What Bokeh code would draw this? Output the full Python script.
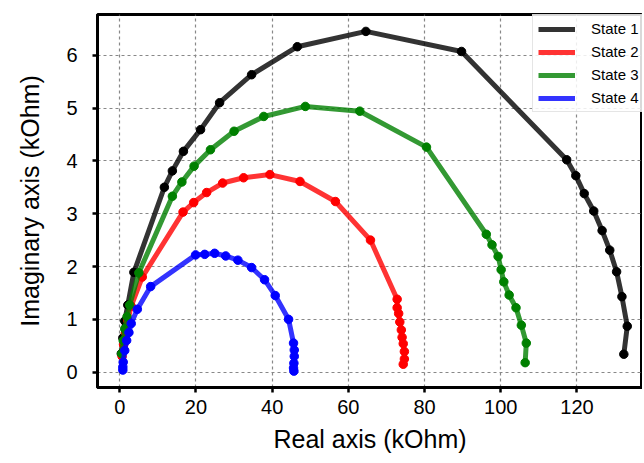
from bokeh.plotting import figure
from bokeh.models import Legend, LegendItem, FixedTicker, Range1d
from bokeh.embed import file_html
from bokeh.resources import INLINE

# ---- data ----
s1_re = [0.4, 0.8, 1.3, 2.1, 3.7, 11.7, 13.8, 16.7, 21.2, 26.2, 34.6, 46.6, 64.6, 89.7,
         117.3, 119.7, 121.9, 124.4, 126.6, 128.6, 130.4, 131.8, 133.2, 132.3]
s1_im = [0.35, 0.65, 0.97, 1.27, 1.89, 3.50, 3.81, 4.18, 4.59, 5.10, 5.63, 6.16, 6.45, 6.07,
         4.02, 3.72, 3.38, 3.05, 2.68, 2.31, 1.90, 1.43, 0.87, 0.34]

s2_re = [0.6, 1.0, 1.5, 2.1, 3.0, 5.9, 16.6, 19.4, 22.8, 27.0, 32.5, 39.4, 47.3, 56.6, 65.8,
         72.8, 72.8, 73.2, 73.5, 73.9, 74.1, 74.4, 74.7, 74.7, 74.4]
s2_im = [0.30, 0.52, 0.75, 0.98, 1.25, 1.80, 3.03, 3.21, 3.40, 3.58, 3.68, 3.74, 3.61, 3.23, 2.50,
         1.38, 1.22, 1.11, 0.95, 0.80, 0.66, 0.54, 0.39, 0.25, 0.15]

s3_re = [0.5, 0.9, 1.3, 1.9, 2.6, 5.0, 13.8, 16.3, 19.5, 23.8, 30.0, 37.8, 48.7, 63.0, 80.5,
         96.2, 97.7, 99.3, 100.1, 100.8, 102.2, 104.0, 105.4, 106.7, 106.4]
s3_im = [0.35, 0.60, 0.82, 1.05, 1.27, 1.88, 3.33, 3.60, 3.90, 4.21, 4.56, 4.84, 5.03, 4.94, 4.26,
         2.61, 2.41, 2.19, 1.94, 1.71, 1.46, 1.22, 0.89, 0.55, 0.18]

s4_re = [0.8, 0.8, 0.9, 1.3, 1.8, 2.4, 3.0, 4.6, 8.1, 19.9, 22.3, 24.9, 27.8, 31.0, 34.6, 38.0,
         40.8, 44.3, 45.6, 45.8, 45.8, 45.7, 45.6, 45.7]
s4_im = [0.04, 0.10, 0.19, 0.41, 0.60, 0.75, 0.92, 1.19, 1.62, 2.22, 2.23, 2.25, 2.20, 2.12, 1.98, 1.75,
         1.45, 1.00, 0.55, 0.42, 0.30, 0.17, 0.08, 0.02]

series_names = ["State 1", "State 2", "State 3", "State 4"]
line_colors = ["black", "red", "green", "blue"]
marker_colors = ["black", "red", "green", "blue"]
x_ticks = [0, 20, 40, 60, 80, 100, 120]
y_ticks = [0, 1, 2, 3, 4, 5, 6]

FONT = "Liberation Sans"

p = figure(width=642, height=455, output_backend="svg", toolbar_location=None,
           x_range=Range1d(-5.85, 137.2), y_range=Range1d(-0.29, 6.77),
           min_border_left=97, min_border_right=0, min_border_top=14, min_border_bottom=64)

p.outline_line_color = "black"
p.outline_line_width = 3
p.background_fill_color = "white"
p.border_fill_color = "white"

data = [(s1_re, s1_im), (s2_re, s2_im), (s3_re, s3_im), (s4_re, s4_im)]
items = []
for (xs, ys), name, lc, mc in zip(data, series_names, line_colors, marker_colors):
    r = p.line(xs, ys, line_color=lc, line_width=5, line_alpha=0.8)
    p.scatter(xs, ys, size=8.5, fill_color=mc, line_color=mc, marker="circle")
    items.append(LegendItem(label=name, renderers=[r]))

# axes
for ax in (p.xaxis[0], p.yaxis[0]):
    ax.axis_line_width = 3
    ax.axis_line_color = "black"
    ax.major_tick_line_width = 2.5
    ax.major_tick_line_color = "black"
    ax.major_tick_out = 5
    ax.major_tick_in = 0
    ax.minor_tick_line_color = None
    ax.major_label_text_font = FONT
    ax.major_label_text_font_size = "20px"
    ax.major_label_text_color = "black"
    ax.axis_label_text_font = FONT
    ax.axis_label_text_font_size = "25px"
    ax.axis_label_text_font_style = "normal"
    ax.axis_label_text_color = "black"

p.xaxis[0].ticker = FixedTicker(ticks=x_ticks)
p.yaxis[0].ticker = FixedTicker(ticks=y_ticks)
p.xaxis[0].axis_label = "Real axis (kOhm)"
p.yaxis[0].axis_label = "Imaginary axis (kOhm)"
p.xaxis[0].major_label_standoff = 7
p.yaxis[0].major_label_standoff = 15
p.xaxis[0].axis_label_standoff = 8
p.yaxis[0].axis_label_standoff = 19

# grid
for g in (p.xgrid[0], p.ygrid[0]):
    g.grid_line_color = "#888888"
    g.grid_line_dash = "3 3"
    g.grid_line_width = 1.2
p.xgrid[0].ticker = FixedTicker(ticks=x_ticks)
p.ygrid[0].ticker = FixedTicker(ticks=y_ticks)

legend = Legend(items=items, location=(435, 275))
legend.label_text_font = FONT
legend.label_text_font_size = "15px"
legend.label_text_color = "black"
legend.glyph_width = 37
legend.glyph_height = 16
legend.label_standoff = 16
legend.spacing = 6
legend.padding = 5
legend.margin = 0
legend.border_line_color = "#cccccc"
legend.border_line_width = 1
legend.background_fill_alpha = 0.85
p.add_layout(legend)

open("out.html", "w").write(file_html(p, INLINE))
